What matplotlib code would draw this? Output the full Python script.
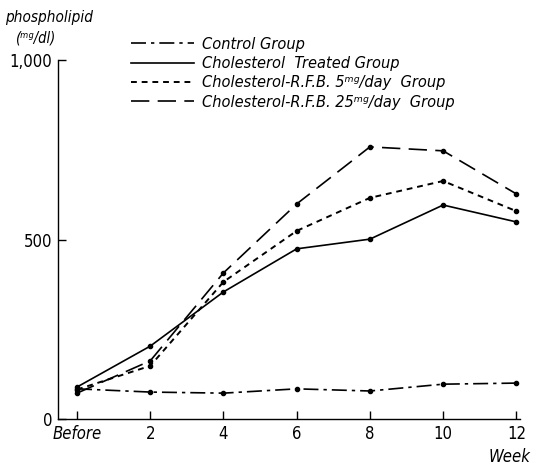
import matplotlib
matplotlib.use("Agg")
import matplotlib.pyplot as plt

# ---------------- data ----------------
weeks = [0, 2, 4, 6, 8, 10, 12]
week_labels = ["Before", "2", "4", "6", "8", "10", "12"]
control = [84, 75, 72, 84, 78, 97, 100]
chol_treated = [89, 203, 354, 474, 501, 596, 549]
rfb_5mg = [82, 148, 382, 524, 616, 663, 579]
rfb_25mg = [72, 162, 407, 599, 758, 747, 627]

plt.rcParams['font.family'] = ['DejaVu Sans']
plt.rcParams['font.stretch'] = 'condensed'

fig = plt.figure(figsize=(5.33, 4.67), dpi=100)
ax = fig.add_axes([0.1088, 0.1028, 0.8668, 0.7687])

lw = 1.2
ax.plot(weeks, control, color='k', lw=lw, ls=(0, (9, 3, 2, 3)), marker='o', ms=3,
        label='Control Group')
ax.plot(weeks, chol_treated, color='k', lw=lw, ls='-', marker='o', ms=3,
        label='Cholesterol  Treated Group')
ax.plot(weeks, rfb_5mg, color='k', lw=lw + 0.2, ls=(0, (3, 2.5)), marker='o', ms=3,
        label='Cholesterol-R.F.B. 5ᵐᵍ/day  Group')
ax.plot(weeks, rfb_25mg, color='k', lw=lw, ls=(0, (11, 5)), marker='o', ms=3,
        label='Cholesterol-R.F.B. 25ᵐᵍ/day  Group')

ax.set_xlim(-0.52, 12.1)
ax.set_ylim(0, 1000)
ax.set_xticks(weeks)
ax.set_xticklabels(week_labels)
ax.set_yticks([0, 500, 1000])
ax.set_yticklabels(['0', '500', '1,000'])
ax.tick_params(direction='in', length=6, width=1, labelsize=12, pad=4)
for lab in ax.get_xticklabels():
    lab.set_style('italic' if lab.get_text() == 'Before' else 'normal')
for s in ['top', 'right']:
    ax.spines[s].set_visible(False)
for s in ['left', 'bottom']:
    ax.spines[s].set_linewidth(1.0)

fig.text(0.01, 0.952, 'phospholipid', fontsize=11, style='italic')
fig.text(0.03, 0.91, '(ᵐᵍ/dl)', fontsize=10.5, style='italic')
fig.text(0.995, 0.01, 'Week', fontsize=12, style='italic', ha='right')

leg = fig.legend(loc='upper left', bbox_to_anchor=(0.218, 0.952), frameon=False,
                 handlelength=3.9, handletextpad=0.45, labelspacing=0.26,
                 prop={'size': 11.7, 'style': 'italic'})
for h in leg.legend_handles:
    h.set_marker('')

fig.savefig('out.png', dpi=100)
